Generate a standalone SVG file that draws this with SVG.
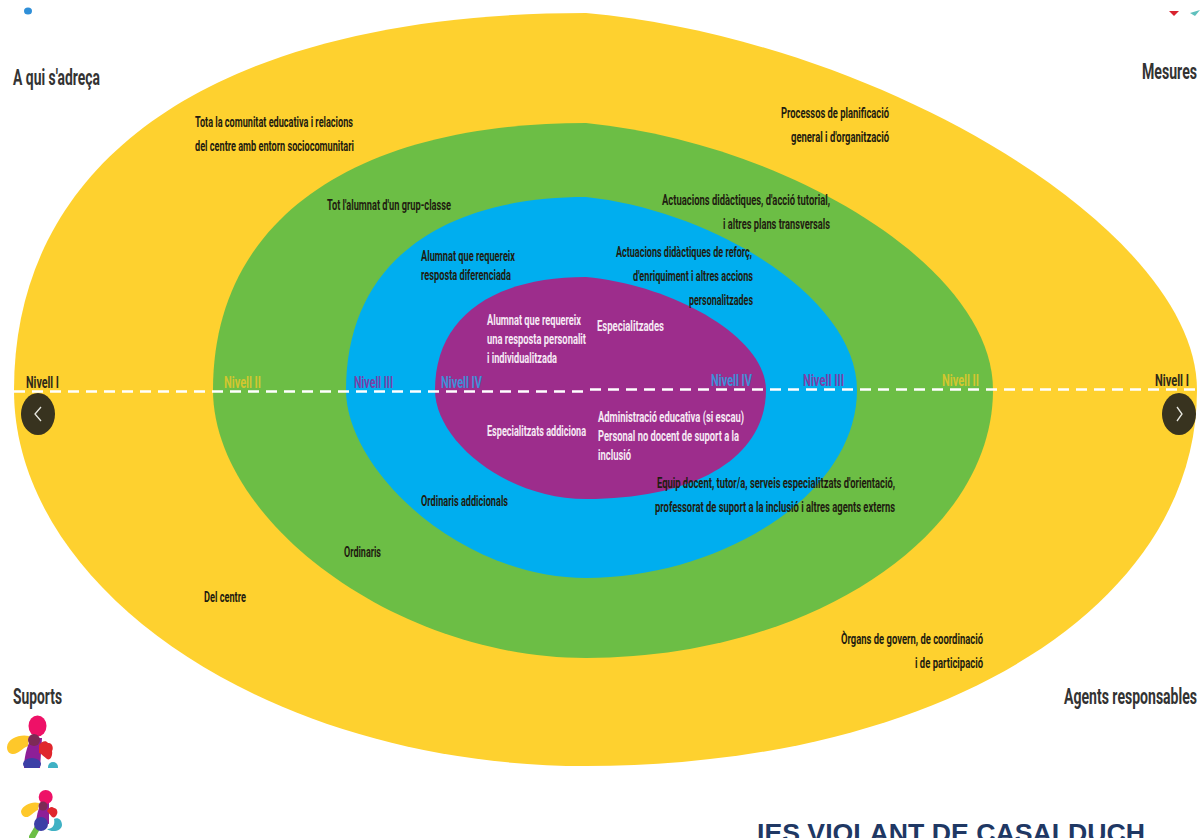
<svg xmlns="http://www.w3.org/2000/svg" width="1203" height="838" viewBox="0 0 1203 838">
<defs>
<style>
text{font-family:Roboto,"Liberation Sans",sans-serif;font-weight:700;font-size:14.5px}
.d{fill:#1f1c10}
.w{fill:#f6e9f4}
.h{font-size:22px;fill:#333}
.n{font-size:17px}
.dash{fill:none;stroke:#fff;stroke-width:2.500;stroke-dasharray:11 7}
.chev{fill:none;stroke:#e8e8e0;stroke-width:1.300}
.nav{fill:#38331f}
</style>
<clipPath id="c1"><rect x="0" y="700" width="80" height="68"/></clipPath>
<clipPath id="c2"><rect x="0" y="0" width="1203" height="16"/></clipPath>
</defs>
<rect width="1203" height="838" fill="#fff"/>
<g id="level-1">
<path fill="#fed12f" d="M586 13C880 40 1197 230 1197 390C1197 610 935 766 586 766C270 766 14 590 14 390C14 150 230 13 586 13Z"/>
</g>
<g id="level-2">
<path fill="#6cbe45" d="M586 123C782 142 993 265 993 390C993 536 810 658 586 658C395 658 213 520 213 390C213 219 355 123 586 123Z"/>
</g>
<g id="level-3">
<path fill="#00aeef" d="M586 197C716 211 857 299 857 390C857 495 720 578 586 578C460 578 346 470 346 390C346 266 437 197 586 197Z"/>
</g>
<g id="level-4">
<path fill="#9d2d8c" d="M586 277C673 285 766 337 766 390C766 455 700 499 586 499C505 499 435 440 435 390C435 318 492 277 586 277Z"/>
</g>
<g id="connectors">
<path class="dash" d="M14 391.500H586"/>
<path class="dash" d="M590 389.500H1203"/>
</g>
<g id="nav-left"><ellipse class="nav" cx="38" cy="414" rx="17" ry="21"/><path class="chev" d="M41 407L35 414L41 421"/></g>
<g id="nav-right"><ellipse class="nav" cx="1179" cy="414" rx="17" ry="21"/><path class="chev" d="M1177 407L1182 414L1177 421"/></g>
<g id="headings">
<text class="h" x="13" y="85" textLength="87" lengthAdjust="spacingAndGlyphs">A qui s'adreça</text>
<text class="h" transform="translate(1142 79) scale(.65 1)" textLength="84.600" lengthAdjust="spacingAndGlyphs">Mesures</text>
<text class="h" x="13" y="704" textLength="49" lengthAdjust="spacingAndGlyphs">Suports</text>
<text class="h" transform="translate(1064 704) scale(.6 1)" textLength="221.700" lengthAdjust="spacingAndGlyphs">Agents responsables</text>
</g>
<g id="nivells">
<text class="n" fill="#2f2a18" x="26" y="388" textLength="33" lengthAdjust="spacingAndGlyphs">Nivell I</text>
<text class="n" fill="#d3c62f" x="224" y="388" textLength="37" lengthAdjust="spacingAndGlyphs">Nivell II</text>
<text class="n" fill="#7b3fa8" x="354" y="388" textLength="39" lengthAdjust="spacingAndGlyphs">Nivell III</text>
<text class="n" fill="#3f8fd8" x="441" y="388" textLength="41" lengthAdjust="spacingAndGlyphs">Nivell IV</text>
<text class="n" fill="#3f8fd8" x="711" y="386" textLength="41" lengthAdjust="spacingAndGlyphs">Nivell IV</text>
<text class="n" fill="#7b3fa8" x="803" y="386" textLength="41" lengthAdjust="spacingAndGlyphs">Nivell III</text>
<text class="n" fill="#d3c62f" x="942" y="386" textLength="37" lengthAdjust="spacingAndGlyphs">Nivell II</text>
<text class="n" fill="#2f2a18" transform="translate(1155 386) scale(.68 1)" textLength="50" lengthAdjust="spacingAndGlyphs">Nivell I</text>
</g>
<g id="labels-dark" class="d">
<text x="195" y="127" textLength="158" lengthAdjust="spacingAndGlyphs">Tota la comunitat educativa i relacions</text>
<text x="195" y="151" textLength="159" lengthAdjust="spacingAndGlyphs">del centre amb entorn sociocomunitari</text>
<text x="781" y="118" textLength="108" lengthAdjust="spacingAndGlyphs">Processos de planificació</text>
<text x="791" y="142" textLength="98" lengthAdjust="spacingAndGlyphs">general i d'organització</text>
<text x="327" y="210" textLength="124" lengthAdjust="spacingAndGlyphs">Tot l'alumnat d'un grup-classe</text>
<text x="662" y="205" textLength="168" lengthAdjust="spacingAndGlyphs">Actuacions didàctiques, d'acció tutorial,</text>
<text x="723" y="229" textLength="107" lengthAdjust="spacingAndGlyphs">i altres plans transversals</text>
<text x="421" y="261" textLength="94" lengthAdjust="spacingAndGlyphs">Alumnat que requereix</text>
<text x="421" y="280" textLength="90" lengthAdjust="spacingAndGlyphs">resposta diferenciada</text>
<text x="616" y="257" textLength="136" lengthAdjust="spacingAndGlyphs">Actuacions didàctiques de reforç,</text>
<text x="633" y="281" textLength="120" lengthAdjust="spacingAndGlyphs">d'enriquiment i altres accions</text>
<text x="689" y="305" textLength="64" lengthAdjust="spacingAndGlyphs">personalitzades</text>
<text x="657" y="488" textLength="238" lengthAdjust="spacingAndGlyphs">Equip docent, tutor/a, serveis especialitzats d'orientació,</text>
<text x="655" y="512" textLength="240" lengthAdjust="spacingAndGlyphs">professorat de suport a la inclusió i altres agents externs</text>
<text x="421" y="506" textLength="87" lengthAdjust="spacingAndGlyphs">Ordinaris addicionals</text>
<text x="344" y="557" textLength="37" lengthAdjust="spacingAndGlyphs">Ordinaris</text>
<text x="204" y="602" textLength="42" lengthAdjust="spacingAndGlyphs">Del centre</text>
<text x="841" y="644" textLength="142" lengthAdjust="spacingAndGlyphs">Òrgans de govern, de coordinació</text>
<text x="915" y="668" textLength="68" lengthAdjust="spacingAndGlyphs">i de participació</text>
</g>
<g id="labels-light" class="w">
<text transform="translate(487 325) scale(.58 1)" textLength="162" lengthAdjust="spacingAndGlyphs">Alumnat que requereix</text>
<text transform="translate(487 344) scale(.57 1)" textLength="173.700" lengthAdjust="spacingAndGlyphs">una resposta personalit</text>
<text x="487" y="363" textLength="70" lengthAdjust="spacingAndGlyphs">i individualitzada</text>
<text x="597" y="331" textLength="67" lengthAdjust="spacingAndGlyphs">Especialitzades</text>
<text transform="translate(487 436) scale(.55 1)" textLength="180" lengthAdjust="spacingAndGlyphs">Especialitzats addiciona</text>
<text x="598" y="422" textLength="146" lengthAdjust="spacingAndGlyphs">Administració educativa (si escau)</text>
<text x="598" y="441" textLength="141" lengthAdjust="spacingAndGlyphs">Personal no docent de suport a la</text>
<text x="598" y="460" textLength="33" lengthAdjust="spacingAndGlyphs">inclusió</text>
</g>
<g id="top-fragments" clip-path="url(#c2)">
<ellipse cx="28" cy="11" rx="4" ry="3.500" fill="#2f8fd8"/>
<path d="M1169 11H1179L1174 16Z" fill="#d8232f"/>
<path d="M1190 13L1200 10L1195 16Z" fill="#5fc0bd"/>
</g>
<g id="runner-1" clip-path="url(#c1)">
<path d="M7 747C8 738 20 734 29 736L28 746C22 748 18 755 12 754C8 753 7 750 7 747Z" fill="#fec82a"/>
<path d="M24 768C24 755 28 745 31 738H42L40 768Z" fill="#8e1f97"/>
<ellipse cx="37.500" cy="726" rx="9" ry="10.500" fill="#ee1167"/>
<circle cx="34" cy="740" r="6" fill="#7d2a55"/>
<path d="M39 745C42 741 46 740 48 743C52 742 54 748 52 751C53 756 50 761 47 759C44 757 42 754 39 753Z" fill="#e0262d"/>
<ellipse cx="32" cy="764" rx="9" ry="6" fill="#3c3fa6"/>
<circle cx="53" cy="767" r="5" fill="#3fb1c4"/>
</g>
<g id="runner-2">
<path d="M21 811C23 805 32 801 39 803L38 810C33 812 30 818 25 817C22 816 21 813 21 811Z" fill="#fec82a"/>
<path d="M29 836L35 826L40 829L35 838H29Z" fill="#6cbe45"/>
<path d="M36 822C37 813 39 808 41 803H49V824Z" fill="#8e1f97"/>
<circle cx="45.700" cy="797" r="7" fill="#ee1167"/>
<circle cx="43" cy="806" r="4.500" fill="#7d2a55"/>
<path d="M47 811C49 807 52 806 54 808C57 808 58 812 57 814C56 817 54 818 52 817Z" fill="#e0262d"/>
<path d="M47 829C54 829 55 823 54 819C58 817 62 820 62 825C62 831 52 833 47 829Z" fill="#3fb1c4"/>
<ellipse cx="41" cy="824" rx="7" ry="7" fill="#3c3fa6"/>
</g>
<g id="footer">
<text x="757" y="842" style="font-family:'Liberation Sans',Arial,sans-serif;font-size:25px;fill:#1f3864" textLength="388" lengthAdjust="spacingAndGlyphs">IES VIOLANT DE CASALDUCH</text>
</g>
</svg>
